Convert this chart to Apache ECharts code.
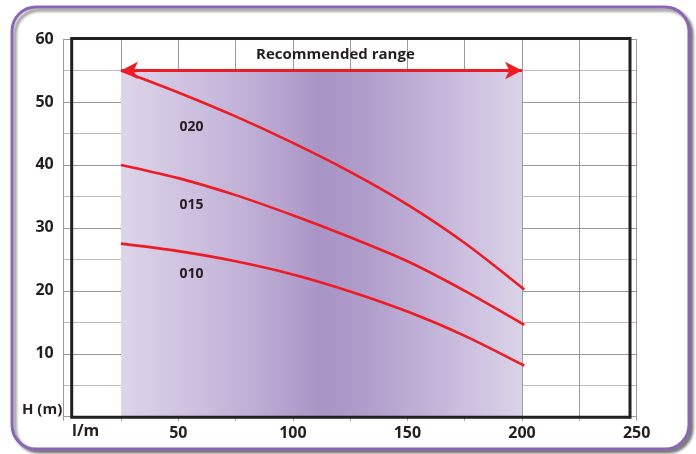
<!DOCTYPE html>
<html><head><meta charset="utf-8">
<script src="https://cdn.jsdelivr.net/npm/echarts@6/dist/echarts.min.js"></script>
<style>html,body{margin:0;padding:0;background:#fff}#c{width:696px;height:454px}</style>
</head><body><div id="c"></div>
<script>
const flow = [25, 50, 75, 100, 125, 150, 175, 201];
const head020 = [55, 51.5, 47.7, 43.5, 38.9, 33.7, 27.6, 20.2];
const head015 = [40, 37.9, 35.2, 32.0, 28.5, 24.7, 20.0, 14.6];
const head010 = [27.5, 26.3, 24.7, 22.6, 19.9, 16.7, 12.85, 8.1];
const curveNames = ['020', '015', '010'];
const xTickLabels = [50, 100, 150, 200, 250];
const yTickLabels = [10, 20, 30, 40, 50, 60];
const rangeStart = 25, rangeEnd = 200, rangeHead = 55;
const rangeTitle = 'Recommended range';

const FONT = 'Open Sans';
const RED = '#ed1c24';
const INK = '#231f20';

const chart = echarts.init(document.getElementById('c'), null, {renderer: 'canvas'});
const pairs = arr => flow.map((x, i) => [x, arr[i]]);

function curve(name, values, labelCoord) {
  return {
    name, type: 'line', data: pairs(values), smooth: 0.3, symbol: 'none', z: 4,
    lineStyle: {color: RED, width: 2.6}, silent: true,
    markPoint: {
      symbol: 'rect', symbolSize: 1, itemStyle: {color: 'rgba(0,0,0,0)'}, silent: true,
      label: {show: true, position: 'inside', formatter: name, color: INK,
              fontFamily: FONT, fontWeight: 'bold', fontSize: 14, letterSpacing: -0.5},
      data: [{coord: labelCoord}]
    }
  };
}

const option = {
  animation: false,
  grid: {left: 63.7, right: 59.4, top: 39, bottom: 37.3, containLabel: false},
  xAxis: {
    type: 'value', min: 0, max: 250, interval: 25,
    axisLine: {show: false},
    axisTick: {show: true, length: 4, lineStyle: {color: '#9a9a9a'}},
    splitLine: {show: true, lineStyle: {color: '#9a9a9a', width: 1}},
    axisLabel: {
      margin: 9, color: INK, fontFamily: FONT, fontWeight: 'bold', fontSize: 16,
      formatter: v => xTickLabels.includes(v) ? String(v) : ''
    }
  },
  yAxis: {
    type: 'value', min: 0, max: 60, interval: 5,
    axisLine: {show: false}, axisTick: {show: false},
    splitLine: {show: true, lineStyle: {color: ['#9a9a9a', '#bdbdbd'], width: 1}},
    axisLabel: {
      margin: 10, color: INK, fontFamily: FONT, fontWeight: 'bold', fontSize: 16,
      formatter: v => yTickLabels.includes(v) ? String(v) : ''
    }
  },
  graphic: [
    {type: 'rect', z: -10, silent: true,
     shape: {x: 12, y: 7, width: 677, height: 442, r: 24},
     style: {fill: '#fff', stroke: '#8b66b4', lineWidth: 3,
             shadowBlur: 3, shadowOffsetX: 3, shadowOffsetY: 3, shadowColor: 'rgba(0,0,0,0.45)'}},
    {type: 'rect', z: 50, silent: true,
     shape: {x: 71.7, y: 38.6, width: 558.3, height: 378.6},
     style: {fill: 'none', stroke: INK, lineWidth: 3}},
    {type: 'text', z: 60, left: 256, top: 47, silent: true,
     style: {text: rangeTitle, fill: INK, font: 'bold 15px "Open Sans"', letterSpacing: -0.6}},
    {type: 'text', z: 60, left: 72, top: 423, silent: true,
     style: {text: 'l/m', fill: INK, font: 'bold 16px "Open Sans"'}},
    {type: 'text', z: 60, left: 22, top: 402, silent: true,
     style: {text: 'H (m)', fill: INK, font: 'bold 15px "Open Sans"', letterSpacing: -0.8}}
  ],
  series: [
    {
      name: 'range', type: 'line', data: [], z: -1, silent: true,
      markArea: {
        silent: true,
        itemStyle: {
          color: new echarts.graphic.LinearGradient(0, 0, 1, 0, [
            {offset: 0, color: '#ddd5ea'},
            {offset: 0.3, color: '#c2b2d8'},
            {offset: 0.5, color: '#a994c6'},
            {offset: 0.62, color: '#b19ecb'},
            {offset: 0.85, color: '#cbbedf'},
            {offset: 1, color: '#dbd3e8'}
          ])
        },
        data: [[{coord: [rangeStart, 0]}, {coord: [rangeEnd, rangeHead]}]]
      }
    },
    {
      name: 'arrow', type: 'line', data: [], z: 5, silent: true,
      markLine: {
        silent: true, symbol: ['arrow', 'arrow'], symbolSize: [13, 17],
        lineStyle: {color: RED, width: 3, type: 'solid'},
        label: {show: false},
        data: [[{coord: [rangeStart, rangeHead]}, {coord: [rangeEnd, rangeHead]}]]
      }
    },
    curve(curveNames[0], head020, [55.8, 46]),
    curve(curveNames[1], head015, [55.8, 33.7]),
    curve(curveNames[2], head010, [55.8, 22.6])
  ]
};
chart.setOption(option);
</script></body></html>
